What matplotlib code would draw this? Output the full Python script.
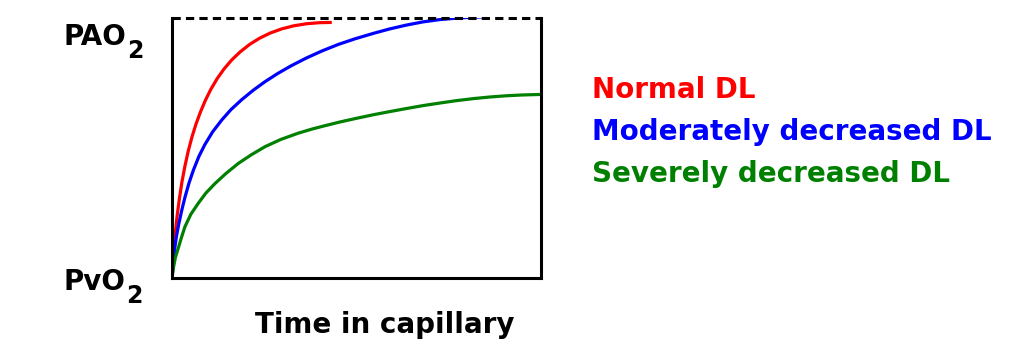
import matplotlib.pyplot as plt

# time along the capillary (0-100) and PO2 as % of the way from PvO2 to PAO2
normal_t = [0, 0.2, 0.5, 0.9, 1.4, 2.0, 2.7, 3.5, 4.4, 5.4, 6.5, 7.7, 9.0, 10.5, 12.2, 14.1,
            16.2, 18.5, 21.0, 23.7, 26.6, 29.7, 33.0, 36.5, 40.0, 43.3]
normal_p = [0, 5.0, 11.0, 17.5, 24.0, 30.5, 37.0, 43.0, 48.8, 54.2, 59.2, 63.8, 68.2, 72.5, 76.6, 80.4,
            83.9, 87.0, 89.8, 92.2, 94.2, 95.8, 97.0, 97.8, 98.2, 98.3]

moderate_t = [0, 0.3, 0.7, 1.2, 1.8, 2.6, 3.5, 4.6, 5.8, 7.3, 8.9, 11.0, 13.5, 16.0, 18.9, 22.0,
              25.2, 28.7, 32.4, 36.4, 40.6, 45.0, 49.6, 54.6, 59.0, 63.6, 68.0, 72.6, 78.5, 85.3]
moderate_p = [0, 5.5, 11.0, 16.0, 20.5, 25.8, 31.0, 36.5, 41.5, 46.8, 51.3, 56.2, 60.8, 64.8, 68.6, 72.2,
              75.5, 78.7, 81.7, 84.6, 87.3, 89.8, 92.0, 94.1, 95.8, 97.3, 98.5, 99.4, 100.1, 100.5]

severe_t = [0, 0.4, 0.9, 1.7, 2.5, 3.5, 5.1, 7.1, 9.2, 11.7, 14.7, 18.0, 21.5, 25.2, 29.5, 34.2,
            38.0, 41.5, 45.5, 49.6, 54.6, 59.0, 63.6, 68.0, 72.6, 77.0, 81.7, 86.0, 90.7, 95.0, 100]
severe_p = [0, 4.0, 7.8, 11.5, 15.3, 19.7, 24.5, 28.7, 32.7, 36.4, 40.3, 44.1, 47.4, 50.5, 53.3, 55.7,
            57.3, 58.6, 60.0, 61.3, 62.8, 64.0, 65.2, 66.3, 67.3, 68.2, 69.0, 69.6, 70.1, 70.4, 70.6]

labels = ["Normal DL", "Moderately decreased DL", "Severely decreased DL"]
colors = ["#ff0000", "#0000ff", "#008000"]

plt.rcParams['font.family'] = ['DejaVu Sans']
plt.rcParams['font.weight'] = 'bold'

fig = plt.figure(figsize=(10.32, 3.52), dpi=100)
ax = fig.add_axes([172 / 1032, 74 / 352, 369 / 1032, 260 / 352])

ax.plot(normal_t, normal_p, color=colors[0], lw=2.3, solid_capstyle='butt')
ax.plot(moderate_t, moderate_p, color=colors[1], lw=2.3, solid_capstyle='butt')
ax.plot(severe_t, severe_p, color=colors[2], lw=2.3, solid_capstyle='butt')

# PAO2 reference as a dashed top edge
ax.axhline(100, color='black', lw=2.2, linestyle=(0, (2.7, 1.7)), clip_on=False)

ax.set_xlim(0, 100)
ax.set_ylim(0, 100)
ax.spines['top'].set_visible(False)
for s in ['left', 'right', 'bottom']:
    ax.spines[s].set_linewidth(2.2)
ax.set_xticks([])
ax.set_yticks([])

# y-axis end labels with a lowered subscript
t1 = fig.text(63 / 1032, 1 - 45 / 352, "PAO", fontsize=20, fontweight='bold', va='baseline')
t2 = fig.text(63 / 1032, 1 - 290 / 352, "PvO", fontsize=20, fontweight='bold', va='baseline')
for t in [t1, t2]:
    ax.annotate("2", xy=(1, 0), xycoords=t, xytext=(1, -7), textcoords='offset pixels',
                fontsize=17, fontweight='bold', va='baseline', annotation_clip=False)

fig.text(255 / 1032, 1 - 333 / 352, "Time in capillary", fontsize=20, fontweight='bold',
         va='baseline')

for i in range(len(labels)):
    fig.text(592 / 1032, 1 - (98 + 42 * i) / 352, labels[i], fontsize=20,
             fontweight='bold', color=colors[i], va='baseline')

plt.savefig("out.png", dpi=100)
plt.close("all")
